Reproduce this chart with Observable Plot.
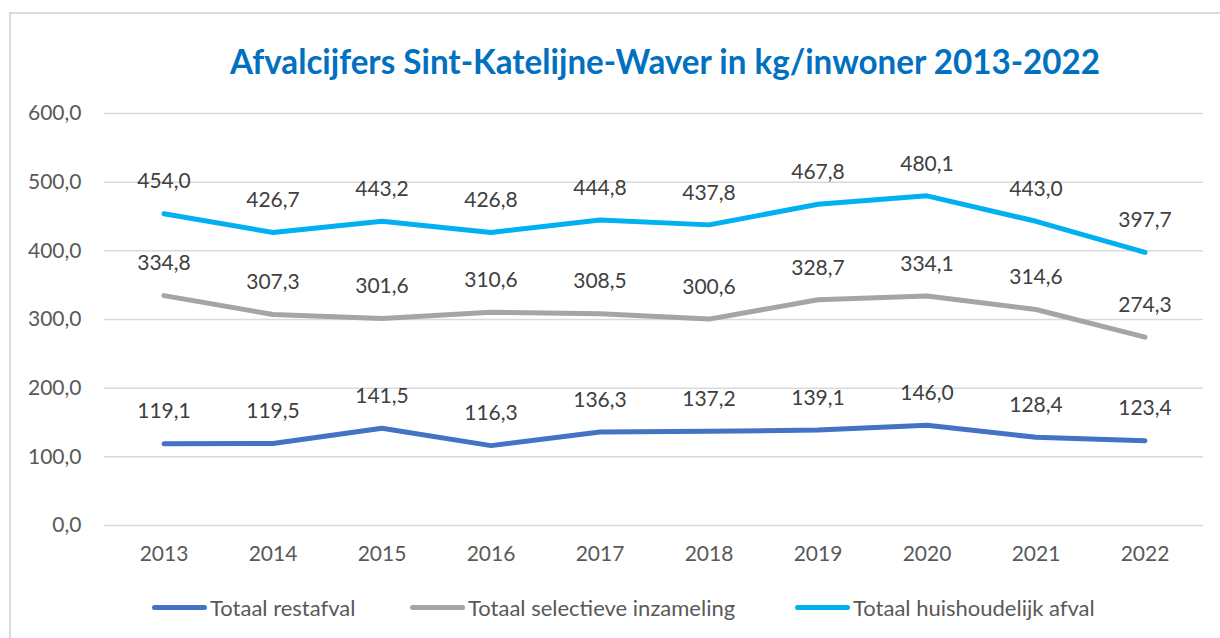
<!DOCTYPE html>
<html>
<head>
<meta charset="utf-8">
<script src="https://cdn.jsdelivr.net/npm/d3@7"></script>
<script src="https://cdn.jsdelivr.net/npm/@observablehq/plot@0.6"></script>
<style>
  html, body { margin: 0; padding: 0; background: #fff; }
  body { width: 1220px; height: 638px; position: relative; overflow: hidden; font-family: Lato, "Open Sans", sans-serif; }
  #border { position: absolute; left: 9px; top: 12px; width: 1300px; height: 700px; border: 2px solid #D9D9D9; box-sizing: border-box; }
  #chart { position: absolute; left: 0; top: 0; }
  #title { position: absolute; left: 0; top: 0; }
  #legend { position: absolute; left: 0; top: 0; width: 1220px; height: 638px; pointer-events: none; }
  .item { position: absolute; top: 594px; display: flex; align-items: center; font-size: 22px; color: #595959; white-space: nowrap; }
  .sw { width: 55px; height: 5px; border-radius: 3px; margin-right: 3px; }
</style>
</head>
<body>
<div id="border"></div>
<div id="chart"></div>
<svg id="title" width="1220" height="100">
  <text x="230" y="74" textLength="870" lengthAdjust="spacingAndGlyphs" fill="#0070C0" font-family="Lato, sans-serif" font-weight="700" font-size="34">Afvalcijfers Sint-Katelijne-Waver in kg/inwoner 2013-2022</text>
</svg>
<div id="legend"></div>
<script>
const years = ["2013","2014","2015","2016","2017","2018","2019","2020","2021","2022"];
const seriesNames = ["Totaal restafval", "Totaal selectieve inzameling", "Totaal huishoudelijk afval"];
const restafval = [119.1, 119.5, 141.5, 116.3, 136.3, 137.2, 139.1, 146.0, 128.4, 123.4];
const selectief = [334.8, 307.3, 301.6, 310.6, 308.5, 300.6, 328.7, 334.1, 314.6, 274.3];
const huishoudelijk = [454.0, 426.7, 443.2, 426.8, 444.8, 437.8, 467.8, 480.1, 443.0, 397.7];
const colors = ["#4472C4", "#A5A5A5", "#00B0F0"];
const yTicks = [0, 100, 200, 300, 400, 500, 600];

const seriesValues = [restafval, selectief, huishoudelijk];
const data = [];
seriesNames.forEach((s, i) => years.forEach((y, j) => data.push({series: s, year: y, value: seriesValues[i][j]})));

const fmt = v => v.toFixed(1).replace(".", ",");

const chart = Plot.plot({
  width: 1220,
  height: 638,
  marginTop: 113,
  marginBottom: 113,
  marginLeft: 104,
  marginRight: 17,
  style: { fontFamily: "Lato, 'Open Sans', sans-serif", background: "transparent" },
  x: { domain: years, type: "band", padding: 0 },
  y: { domain: [0, 600] },
  color: { domain: seriesNames, range: colors },
  marks: [
    Plot.gridY(yTicks, { stroke: "#D9D9D9", strokeOpacity: 1, strokeWidth: 1.5 }),
    Plot.axisY(yTicks, { tickSize: 0, tickPadding: 23, tickFormat: fmt, fontSize: 21, fill: "#595959", label: null }),
    Plot.axisX({ tickSize: 0, tickPadding: 21, fontSize: 21, fill: "#595959", label: null }),
    Plot.line(data, { x: "year", y: "value", z: "series", stroke: "series", strokeWidth: 5, strokeLinecap: "round", strokeLinejoin: "round" }),
    Plot.text(data, { x: "year", y: "value", text: d => fmt(d.value), dy: -32, fontSize: 21, fill: "#404040" })
  ]
});
document.getElementById("chart").appendChild(chart);

const legend = document.getElementById("legend");
const lefts = [152, 410, 795];
seriesNames.forEach((s, i) => {
  const it = document.createElement("div");
  it.className = "item";
  it.style.left = lefts[i] + "px";
  const sw = document.createElement("div");
  sw.className = "sw";
  sw.style.background = colors[i];
  const t = document.createElement("span");
  t.textContent = s;
  it.appendChild(sw); it.appendChild(t);
  legend.appendChild(it);
});
</script>
</body>
</html>
